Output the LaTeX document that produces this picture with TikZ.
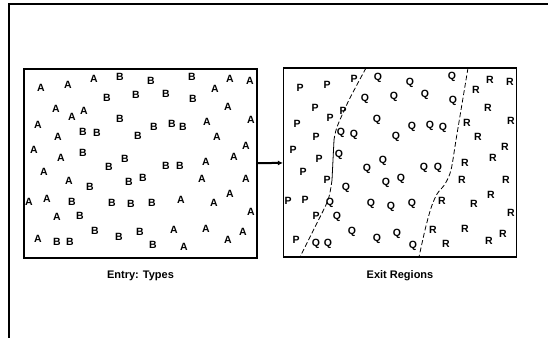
\documentclass[tikz,border=0pt]{standalone}
\usepackage{fontspec}
\setmainfont{Liberation Sans}
\usetikzlibrary{arrows.meta,positioning}

\begin{document}
\begin{tikzpicture}[
  x=1pt,y=-1pt,
  panel/.style={rectangle,draw,line width=1.2pt,minimum width=233pt,minimum height=189pt,inner sep=0pt},
  lett/.style={font=\bfseries\fontsize{10.5}{10.5}\selectfont,inner sep=0pt},
  caption/.style={font=\bfseries\fontsize{11}{11}\selectfont},
  bound/.style={line width=0.8pt,dash pattern=on 5pt off 2.5pt},
  arr/.style={-{Latex[length=5pt,width=5pt]},line width=2pt}
]
\useasboundingbox (0,0) rectangle (548,338);
\draw[line width=1.5pt] (548,4) -- (9,4) -- (9,338);

\node[panel] (entry) at (140.5,163.5) {};
\node[panel] (exit) at (400,162.5) {};
\node[caption,below=9pt of entry] (entrycap) {Entry: Types};
\node[caption,below=9pt of exit] (exitcap) {Exit Regions};

\draw[arr] (entry) -- (exit);

% entry types
\foreach \x/\y/\t [count=\i] in {
  41/88/A, 68/85/A, 94/79/A, 120/77/B, 151/81/B, 192/77/B, 230/79/A, 250/81/A,
  107/98/B, 136/95/B, 166/94/B, 193/99/B, 215/89/A,
  56/109/A, 84/111/A, 72/117/A, 228/107/A,
  38/125/A, 120/119/B, 207/122/A, 251/120/A,
  83/132/B, 97/133/B, 138/136/B, 154/127/B, 172/124/B, 183/127/B, 58/137/A, 217/137/A,
  34/150/A, 83/153/B, 246/146/A,
  61/158/A, 125/159/B, 109/167/B, 166/166/B, 180/166/B, 206/162/A, 234/157/A,
  44/172/A, 69/181/A, 90/187/B, 129/182/B, 143/178/B, 202/179/A, 246/179/A,
  29/202/A, 47/199/A, 72/202/B, 112/203/B, 131/204/B, 152/203/B, 181/200/A, 214/203/A, 230/194/A,
  57/217/A, 80/216/B, 251/212/A,
  38/239/A, 57/242/B, 70/242/B, 95/231/B, 119/237/B, 140/232/B, 153/245/B,
  174/230/A, 184/247/A, 206/229/A, 228/240/A, 243/232/A}
  \node[lett] (e\i) at (\x,\y) {\t};

% exit regions
\foreach \x/\y/\t [count=\i] in {
  300/88/P, 327/85/P, 354/79/P, 378/78/Q, 410/83/Q, 452/77/Q, 490/80/R, 510/82/R,
  476/90/R, 365/99/Q, 394/97/Q, 425/95/Q, 453/101/Q,
  315/108/P, 330/118/P, 343/111/P, 488/108/R,
  297/124/P, 377/120/Q, 467/123/R, 511/121/R,
  341/133/Q, 354/135/Q, 396/137/Q, 412/127/Q, 430/126/Q, 443/128/Q, 316/137/P, 478/137/R,
  293/150/P, 505/147/R, 339/155/Q,
  319/159/P, 383/161/Q, 367/169/Q, 424/168/Q, 438/168/Q, 465/163/R, 493/158/R,
  303/172/P, 327/180/P, 346/188/Q, 386/183/Q, 401/179/Q, 462/180/R, 506/180/R,
  288/201/P, 305/200/P, 330/203/Q, 371/204/Q, 391/207/Q, 412/204/Q, 442/201/R, 474/204/R, 491/195/R,
  316/216/P, 337/217/Q, 511/213/R,
  296/240/P, 316/244/Q, 328/244/Q, 352/232/Q, 377/239/Q, 397/234/Q, 413/246/Q,
  433/230/R, 446/244/R, 465/229/R, 489/241/R, 503/234/R}
  \node[lett] (x\i) at (\x,\y) {\t};

% region boundaries
\draw[bound] plot[smooth] coordinates {(366,68) (349,100) (337,127) (334,140)};
\draw[line width=0.8pt] (334,140) -- (332,180);
\draw[bound] plot[smooth] coordinates {(332,180) (328,200) (315,227) (300,257)};
\draw[bound] plot[smooth] coordinates {(468,68) (461,110) (456,140) (451,170) (445,184) (437,194) (431,208) (425,230) (419,257)};
\end{tikzpicture}
\end{document}
